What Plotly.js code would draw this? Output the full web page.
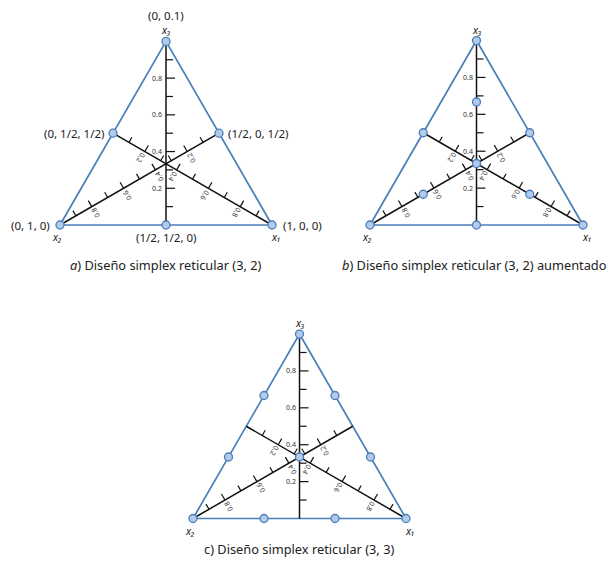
<!DOCTYPE html>
<html><head><meta charset="utf-8">
<script src="https://cdn.plot.ly/plotly-3.0.1.min.js"></script>
<style>html,body{margin:0;padding:0;background:#fff}</style>
</head><body><div id="chart" style="width:607px;height:564px"></div>
<script>
// ---------------- DATA ----------------
// Design points in mixture coordinates (x1, x2, x3)
const designA_x1 = [1, 0, 0, 0.5, 0.5, 0];
const designA_x2 = [0, 1, 0, 0.5, 0, 0.5];
const designA_x3 = [0, 0, 1, 0, 0.5, 0.5];
const designA_labels = ['(1, 0, 0)', '(0, 1, 0)', '(0, 0.1)', '(1/2, 1/2, 0)', '(1/2, 0, 1/2)', '(0, 1/2, 1/2)'];

const designB_x1 = [1, 0, 0, 0.5, 0.5, 0, 1/3, 2/3, 1/6, 1/6];
const designB_x2 = [0, 1, 0, 0.5, 0, 0.5, 1/3, 1/6, 2/3, 1/6];
const designB_x3 = [0, 0, 1, 0, 0.5, 0.5, 1/3, 1/6, 1/6, 2/3];

const designC_x1 = [1, 0, 0, 2/3, 1/3, 2/3, 1/3, 0, 0, 1/3];
const designC_x2 = [0, 1, 0, 1/3, 2/3, 0, 0, 2/3, 1/3, 1/3];
const designC_x3 = [0, 0, 1, 0, 0, 1/3, 2/3, 1/3, 2/3, 1/3];

const componentNames = ['x₁', 'x₂', 'x₃'];
const scaleTickValues = [0.1, 0.2, 0.3, 0.4, 0.5, 0.6, 0.7, 0.8, 0.9];
const scaleLabelValues = [0.2, 0.4, 0.6, 0.8];
const scaleLabels = ['0.2', '0.4', '0.6', '0.8'];
const captions = [
  '<i>a</i>) Diseño simplex reticular (3, 2)',
  '<i>b</i>) Diseño simplex reticular (3, 2) aumentado',
  'c) Diseño simplex reticular (3, 3)'
];

// ---------------- LAYOUT / STYLE ----------------
const FONT = 'Noto Sans, Open Sans, sans-serif';
const EDGE = '#4a7ebb';
const panels = [
  {ox: 60, oy: 225, s: 212, x1: designA_x1, x2: designA_x2, x3: designA_x3, labels: designA_labels, cap: captions[0], capX: 166, capY: 265},
  {ox: 370, oy: 225, s: 213, x1: designB_x1, x2: designB_x2, x3: designB_x3, labels: null, cap: captions[1], capX: 474, capY: 265},
  {ox: 193, oy: 518.5, s: 213, x1: designC_x1, x2: designC_x2, x3: designC_x3, labels: null, cap: captions[2], capX: 299, capY: 549}
];
// label placement for panel a points: [dx, dy, xanchor]
const labelPlaceA = [[9, 0, 'left'], [-8, 0, 'right'], [0, -26, 'center'], [0, 12, 'center'], [7, 0, 'left'], [-6, 0, 'right']];
const H = Math.sqrt(3) / 2;

function toXY(p, a, b, c) { // a=x1, b=x2, c=x3
  return [p.ox + p.s * (a + 0.5 * c), p.oy - p.s * H * c];
}
function bary(k, v) { const r = [(1 - v) / 2, (1 - v) / 2, (1 - v) / 2]; r[k] = v; return r; }

// per-median geometry: tick direction, label direction, textangle
const medianStyle = [
  {tick: [0.5, -H], lab: [-0.5, H], angle: 120},   // x1 median
  {tick: [-0.5, -H], lab: [0.5, H], angle: -120},  // x2 median
  {tick: [1, 0], lab: [-1, 0], angle: 0}           // x3 median
];

const traces = [];
const annotations = [];

panels.forEach((p, pi) => {
  const tv = [[1,0,0],[0,1,0],[0,0,1],[1,0,0]].map(b => toXY(p, ...b));
  traces.push({type: 'scatter', mode: 'lines', x: tv.map(q => q[0]), y: tv.map(q => q[1]),
    line: {color: EDGE, width: 1.7}, hoverinfo: 'skip'});
  const mx = [], my = [], tx = [], ty = [];
  for (let k = 0; k < 3; k++) {
    const a = toXY(p, ...bary(k, 1)), b = toXY(p, ...bary(k, 0));
    mx.push(a[0], b[0], null); my.push(a[1], b[1], null);
    const st = medianStyle[k];
    scaleTickValues.forEach(v => {
      const q = toXY(p, ...bary(k, v));
      const major = scaleLabelValues.some(w => Math.abs(w - v) < 1e-9);
      const len = (k === 2) ? (major ? 9 : 7) : (major ? 7 : 6);
      tx.push(q[0], q[0] + st.tick[0] * len, null);
      ty.push(q[1], q[1] + st.tick[1] * len, null);
    });
    scaleLabelValues.forEach((v, i) => {
      const q = toXY(p, ...bary(k, v));
      if (k === 2) {
        annotations.push({x: q[0] - 2, y: q[1], xref: 'x', yref: 'y', text: scaleLabels[i], showarrow: false,
          xanchor: 'right', yanchor: 'middle', font: {family: FONT, size: 7, color: '#333'}});
      } else {
        const d = 7.5;
        annotations.push({x: q[0] + st.lab[0] * d, y: q[1] + st.lab[1] * d, xref: 'x', yref: 'y', text: scaleLabels[i],
          showarrow: false, textangle: st.angle, xanchor: 'center', yanchor: 'middle',
          font: {family: FONT, size: 7, color: '#333'}});
      }
    });
  }
  traces.push({type: 'scatter', mode: 'lines', x: mx, y: my, line: {color: '#111', width: 1.5}, hoverinfo: 'skip'});
  traces.push({type: 'scatter', mode: 'lines', x: tx, y: ty, line: {color: '#111', width: 1.2}, hoverinfo: 'skip'});
  const px = [], py = [];
  p.x1.forEach((v, i) => { const q = toXY(p, p.x1[i], p.x2[i], p.x3[i]); px.push(q[0]); py.push(q[1]); });
  traces.push({type: 'scatter', mode: 'markers', x: px, y: py, hoverinfo: 'skip',
    marker: {size: 8, color: '#b3cbe9', line: {color: EDGE, width: 1.3}}});
  if (p.labels) {
    p.labels.forEach((t, i) => {
      const pl = labelPlaceA[i];
      annotations.push({x: px[i] + pl[0], y: py[i] + pl[1], xref: 'x', yref: 'y', text: t, showarrow: false,
        xanchor: pl[2], yanchor: 'middle', font: {family: FONT, size: 11.5, color: '#222'}});
    });
  }
  const v1 = toXY(p, 1, 0, 0), v2 = toXY(p, 0, 1, 0), v3 = toXY(p, 0, 0, 1);
  const nf = {family: FONT, size: 10.5, color: '#222', style: 'italic'};
  annotations.push({x: v1[0] + 4, y: v1[1] + 12, xref: 'x', yref: 'y', text: componentNames[0], showarrow: false, font: nf});
  annotations.push({x: v2[0] - 3, y: v2[1] + 12, xref: 'x', yref: 'y', text: componentNames[1], showarrow: false, font: nf});
  annotations.push({x: v3[0], y: v3[1] - 11, xref: 'x', yref: 'y', text: componentNames[2], showarrow: false, font: nf});
  annotations.push({x: p.capX, y: p.capY, xref: 'x', yref: 'y', text: p.cap, showarrow: false,
    font: {family: FONT, size: 12.8, color: '#222'}});
});

const layout = {
  width: 607, height: 564, margin: {l: 0, r: 0, t: 0, b: 0},
  paper_bgcolor: '#fff', plot_bgcolor: '#fff', showlegend: false, hovermode: false,
  xaxis: {range: [0, 607], visible: false, fixedrange: true},
  yaxis: {range: [564, 0], visible: false, fixedrange: true},
  annotations: annotations
};
Plotly.newPlot('chart', traces, layout, {displayModeBar: false, staticPlot: true});
</script></body></html>
